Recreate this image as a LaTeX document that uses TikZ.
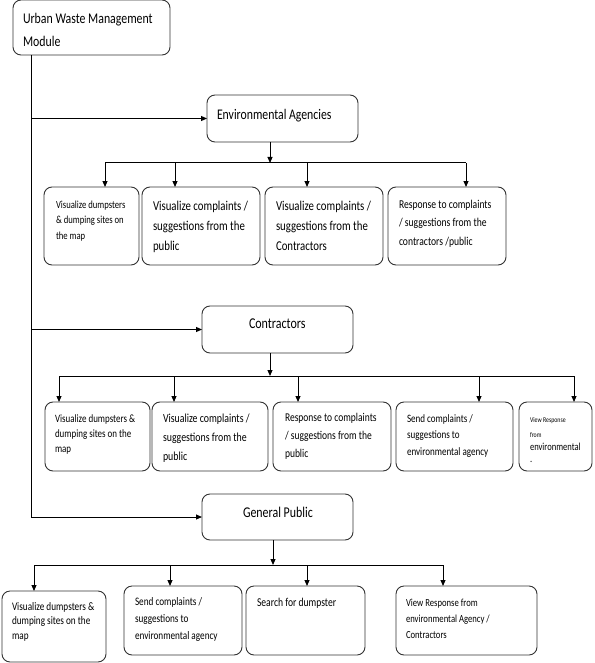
\documentclass[tikz,border=0pt]{standalone}
\usepackage{fontspec}
\setmainfont{Carlito}[FakeStretch=0.8]
\usetikzlibrary{arrows.meta}
\newcommand\fs[2]{\fontsize{#1pt}{#2pt}\selectfont}
\newcommand\wbox[8]{%
  \pgfmathsetlengthmacro\wbw{#4-#2}%
  \pgfmathsetlengthmacro\wbh{#5-#3}%
  \node[wb,minimum width=\wbw,minimum height=\wbh,anchor=north west] (#1) at (#2,#3)
    {\begin{minipage}[c][\wbh][t]{\wbw}\raggedright\leftskip=#6pt\relax\leavevmode\rule{0pt}{#7pt}#8\end{minipage}};%
}
\tikzset{
  wb/.style={draw=black!80,line width=0.9pt,rounded corners=8pt,inner sep=0pt,outer sep=0pt,fill=white},
  ln/.style={draw=black,line width=1pt},
  arr/.style={ln,-{Triangle[length=6pt,width=5pt]}}
}
\begin{document}
\begin{tikzpicture}[x=1pt,y=-1pt]
\useasboundingbox (0,0) rectangle (594,663);
% header boxes
\wbox{top}{13}{0}{170}{55}{10}{24}{\fs{14.8}{23}Urban Waste Management\\Module}
\wbox{ea}{207}{95}{358}{142}{10}{25}{\fs{14.7}{18}Environmental Agencies}
\wbox{con}{202}{306}{353}{353}{47}{22}{\fs{15}{18}Contractors}
\wbox{gp}{202}{494}{353}{540}{41}{23}{\fs{14.9}{18}General Public}
% row 1
\wbox{e1}{44}{187}{139}{265}{12}{21}{\fs{10.8}{15.5}Visualize dumpsters\\\& dumping sites on\\the map}
\wbox{e2}{142}{187}{260}{265}{11}{23}{\fs{13.5}{20}Visualize complaints /\\suggestions from the\\public}
\wbox{e3}{265}{187}{383}{265}{11}{23}{\fs{13.5}{20}Visualize complaints /\\suggestions from the\\Contractors}
\wbox{e4}{388}{187}{506}{265}{11}{21}{\fs{12}{18.5}Response to complaints\\/ suggestions from the\\contractors /public}
% row 2
\wbox{c1}{45}{402}{150}{471}{10}{20}{\fs{11.2}{15}Visualize dumpsters \&\\dumping sites on the\\map}
\wbox{c2}{152}{402}{268}{471}{11}{20}{\fs{12.3}{19}Visualize complaints /\\suggestions from the\\public}
\wbox{c3}{273}{402}{391}{471}{12}{19}{\fs{11.9}{18}Response to complaints\\/ suggestions from the\\public}
\wbox{c4}{396}{402}{513}{471}{11}{20}{\fs{11.3}{16.5}Send complaints /\\suggestions to\\environmental agency}
\wbox{c5}{519}{402}{592}{471}{11}{20}{\fs{7.3}{12}View Response\\[3pt]from\\[1pt]\fs{10.7}{12}environmental\\.}
% row 3
\wbox{p1}{2}{591}{106}{662}{10}{19}{\fs{11.5}{14.5}Visualize dumpsters \&\\dumping sites on the\\map}
\wbox{p2}{124}{586}{242}{655}{11}{19}{\fs{11.5}{17}Send complaints /\\suggestions to\\environmental agency}
\wbox{p3}{246}{586}{365}{655}{11}{20}{\fs{12}{18}Search for dumpster}
\wbox{p4}{396}{586}{537}{655}{10}{20}{\fs{10.8}{16}View Response from\\environmental Agency /\\Contractors}
% trunk
\coordinate (tr) at (31,0);
\draw[arr] (top.south -| tr) |- (gp.west);
\draw[arr] (tr |- ea.west) -- (ea.west);
\draw[arr] (tr |- con.west) -- (con.west);
% bus 1
\coordinate (j0) at (270,163);
\coordinate (j1) at (105,163);
\coordinate (j2) at (175,163);
\coordinate (j3) at (307,163);
\coordinate (j4) at (466,163);
\draw[arr] (ea.south -| j0) -- (j0);
\draw[ln] (j1) -- (j4);
\foreach \j/\b in {j1/e1,j2/e2,j3/e3,j4/e4} \draw[arr] (\j) -- (\j |- \b.north);
% bus 2
\coordinate (k0) at (270,376);
\coordinate (k1) at (59,376);
\coordinate (k2) at (174,376);
\coordinate (k3) at (298,376);
\coordinate (k4) at (479,376);
\coordinate (k5) at (574,376);
\draw[arr] (con.south -| k0) -- (k0);
\draw[ln] (k1) -- (k5);
\foreach \j/\b in {k1/c1,k2/c2,k3/c3,k4/c4,k5/c5} \draw[arr] (\j) -- (\j |- \b.north);
% bus 3
\coordinate (m0) at (273,565);
\coordinate (m1) at (34,565);
\coordinate (m2) at (170,565);
\coordinate (m3) at (307,565);
\coordinate (m4) at (443,565);
\draw[arr] (gp.south -| m0) -- (m0);
\draw[ln] (m1) -- (m4);
\foreach \j/\b in {m1/p1,m2/p2,m3/p3,m4/p4} \draw[arr] (\j) -- (\j |- \b.north);
\end{tikzpicture}
\end{document}
